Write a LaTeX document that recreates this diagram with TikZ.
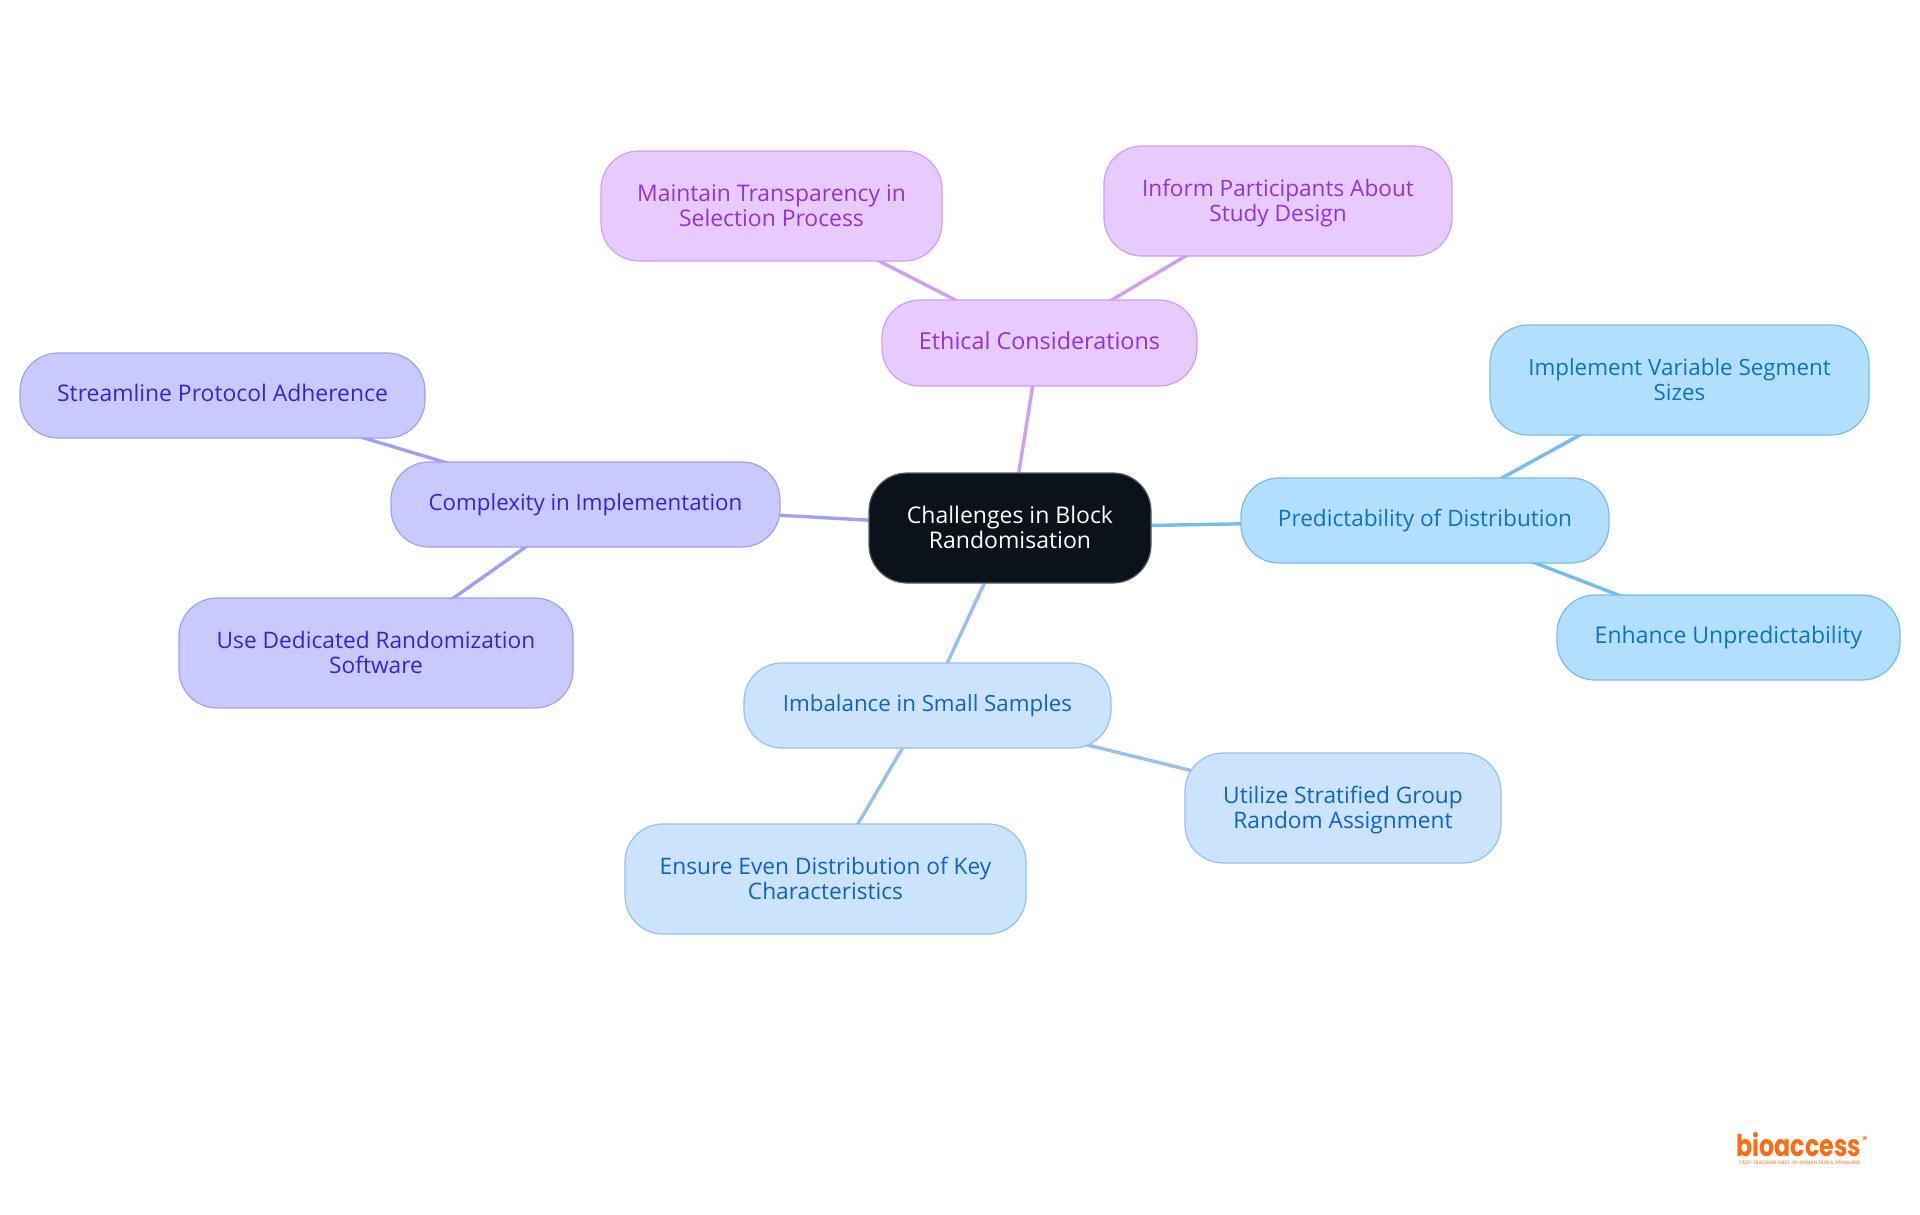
\documentclass[tikz,border=0pt]{standalone}
\usepackage{fontspec}
\setmainfont{Open Sans}
\newfontfamily\logofont{Poppins}
\usetikzlibrary{backgrounds}
\definecolor{rootfill}{HTML}{0B121A}\definecolor{rootline}{HTML}{5A5F65}
\definecolor{purfill}{HTML}{E7CAFE}\definecolor{purline}{HTML}{CF9EF5}\definecolor{purtext}{HTML}{9333D6}
\definecolor{skyfill}{HTML}{B3DFFF}\definecolor{skyline}{HTML}{75BDF0}\definecolor{skytext}{HTML}{0A74C0}
\definecolor{blufill}{HTML}{CCE3FD}\definecolor{bluline}{HTML}{96C1F0}\definecolor{blutext}{HTML}{0E63C4}
\definecolor{indfill}{HTML}{C9C9FF}\definecolor{indline}{HTML}{A0A0F5}\definecolor{indtext}{HTML}{3227CC}
\definecolor{logoor}{HTML}{FF6A13}
\newcommand{\st}{\rule[-6.5pt]{0pt}{25pt}}
\newcommand{\stt}{\rule[-6.5pt]{0pt}{28pt}}
\tikzset{
  box/.style={draw,line width=1.2pt,rounded corners=38pt,align=center,inner sep=0pt},
  rootbox/.style={box,fill=rootfill,draw=rootline,text=white},
  purbox/.style={box,fill=purfill,draw=purline,text=purtext},
  skybox/.style={box,fill=skyfill,draw=skyline,text=skytext},
  blubox/.style={box,fill=blufill,draw=bluline,text=blutext},
  indbox/.style={box,fill=indfill,draw=indline,text=indtext},
  link/.style={line width=3.4pt},
  fs/.style={font=\fontsize{#1}{25}\selectfont},
  bx/.style n args={2}{minimum width=#1pt,minimum height=#2pt}
}
\begin{document}
\begin{tikzpicture}[x=1pt,y=-1pt]
\useasboundingbox (0,0) rectangle (1920,1215);
\node[rootbox,fs=23,bx={282}{110}] (root) at (1010,528) {\stt Challenges in Block\\\st Randomisation};
\node[purbox,fs=23.36,bx={315}{86}] (eth) at (1039.5,343) {\st Ethical Considerations};
\node[purbox,fs=22.9,bx={341}{110}] (main) at (771.5,206) {\stt Maintain Transparency in\\\st Selection Process};
\node[purbox,fs=22.6,bx={348}{110}] (inf) at (1278,201) {\stt Inform Participants About\\\st Study Design};
\node[skybox,fs=22.6,bx={368}{85}] (pred) at (1425,520.5) {\st Predictability of Distribution};
\node[skybox,fs=22.4,bx={379}{110}] (impl) at (1679.5,380) {\stt Implement Variable Segment\\\st Sizes};
\node[skybox,fs=23,bx={343}{85}] (enh) at (1728.5,637.5) {\st Enhance Unpredictability};
\node[blubox,fs=22.3,bx={367}{85}] (imb) at (927.5,705.5) {\st Imbalance in Small Samples};
\node[blubox,fs=22.7,bx={316}{110}] (uti) at (1343,808) {\stt Utilize Stratified Group\\\st Random Assignment};
\node[blubox,fs=22.7,bx={401}{110}] (ens) at (825.5,879) {\stt Ensure Even Distribution of Key\\\st Characteristics};
\node[indbox,fs=22.3,bx={389}{85}] (cpx) at (585.5,504.5) {\st Complexity in Implementation};
\node[indbox,fs=22.9,bx={405}{85}] (str) at (222.5,395.5) {\st Streamline Protocol Adherence};
\node[indbox,fs=22.7,bx={394}{110}] (use) at (376,653) {\stt Use Dedicated Randomization\\\st Software};
\begin{scope}[on background layer]
\draw[link,purline] (root.center)--(eth.center) (eth.center)--(main.center) (eth.center)--(inf.center);
\draw[link,skyline] (root.center)--(pred.center) (pred.center)--(impl.center) (pred.center)--(enh.center);
\draw[link,bluline] (root.center)--(imb.center) (imb.center)--(uti.center) (imb.center)--(ens.center);
\draw[link,indline] (root.center)--(cpx.center) (cpx.center)--(str.center) (cpx.center)--(use.center);
\end{scope}
\node[text=logoor,inner sep=0pt,anchor=base,xscale=0.79,font=\logofont\bfseries\fontsize{30}{30}\selectfont] (logo) at (1798.5,1156) {bioaccess};
\node[text=logoor,inner sep=0pt,anchor=base,font=\logofont\fontsize{4.8}{5}\selectfont] (tag) at (1800,1164) {FAST-TRACKING FIRST-IN-HUMAN TRIALS, ANYWHERE};
\node[text=logoor,inner sep=0pt,font=\logofont\bfseries\fontsize{10}{10}\selectfont] (reg) at (1865,1140) {®};
\end{tikzpicture}
\end{document}
